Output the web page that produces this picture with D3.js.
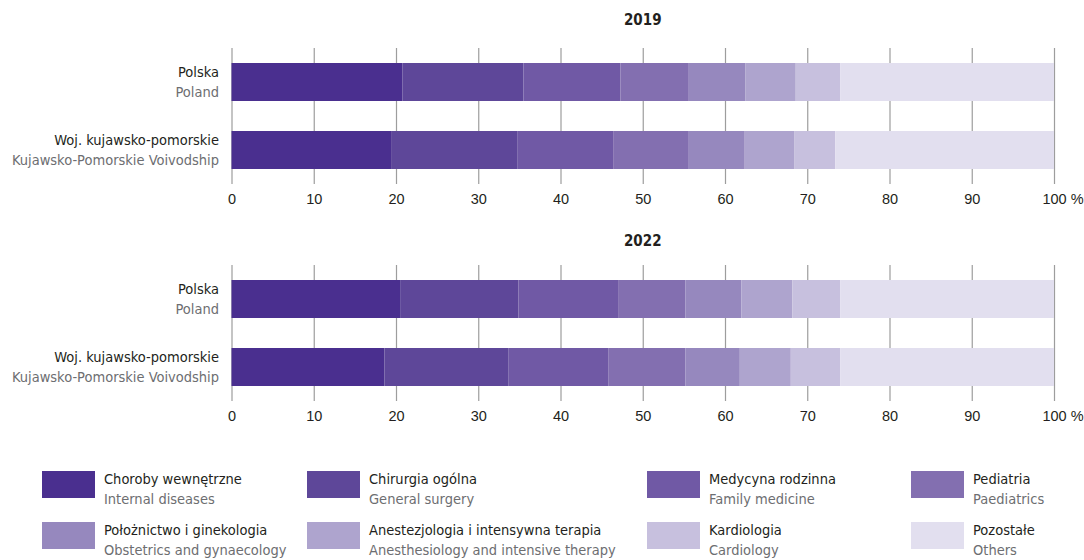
<!DOCTYPE html>
<html>
<head>
<meta charset="utf-8">
<script src="https://cdn.jsdelivr.net/npm/d3@7"></script>
<style>
  body { margin: 0; background: #fff; }
  svg { font-family: "DejaVu Sans Condensed", "DejaVu Sans", sans-serif; font-stretch: condensed; }
  .tick line { stroke: #9d9d9d; }
  .tick text { font-size: 14.5px; fill: #231f20; }
</style>
</head>
<body>
<div id="chart"></div>
<script>
// specialisations (legend order = stack order)
var categoriesPl = ["Choroby wewnętrzne", "Chirurgia ogólna", "Medycyna rodzinna", "Pediatria",
  "Położnictwo i ginekologia", "Anestezjologia i intensywna terapia", "Kardiologia", "Pozostałe"];
var categoriesEn = ["Internal diseases", "General surgery", "Family medicine", "Paediatrics",
  "Obstetrics and gynaecology", "Anesthesiology and intensive therapy", "Cardiology", "Others"];

var regionsPl = ["Polska", "Woj. kujawsko-pomorskie"];
var regionsEn = ["Poland", "Kujawsko-Pomorskie Voivodship"];

var years = ["2019", "2022"];

// shares in %
var polska2019 = [20.8, 14.7, 11.8, 8.3, 6.9, 6.1, 5.4, 26.0];
var kujawsko2019 = [19.4, 15.4, 11.6, 9.2, 6.8, 6.0, 5.0, 26.6];
var polska2022 = [20.5, 14.4, 12.1, 8.2, 6.8, 6.2, 5.8, 26.0];
var kujawsko2022 = [18.6, 15.1, 12.1, 9.4, 6.6, 6.2, 6.0, 26.0];

var ticks = [0, 10, 20, 30, 40, 50, 60, 70, 80, 90, 100];

var colors = ["#4a2f8f", "#5e4799", "#7059a5", "#836fb0", "#9688be", "#aea4ce", "#c7c0de", "#e2dfef"];

var w = 1084, h = 560;
var panelTops = [48, 265];
var titleOffsets = [-28, -24];
var panelH = 136;
var fs = "14.5px";

var svg = d3.select("#chart")
  .append("svg")
  .attr("width", w)
  .attr("height", h);

var x = d3.scaleLinear()
  .domain([0, 100])
  .range([231.5, 1054]);

var y = d3.scaleBand()
  .domain(regionsPl)
  .range([0, panelH])
  .paddingInner(30 / 68)
  .paddingOuter(15 / 68);

var color = d3.scaleOrdinal()
  .domain(categoriesPl)
  .range(colors);

var panelData = [
  [polska2019, kujawsko2019],
  [polska2022, kujawsko2022]
];

years.forEach(function (year, i) {
  var g = svg.append("g")
    .attr("transform", `translate(0, ${panelTops[i]})`);

  // title
  g.append("text")
    .attr("x", (x(0) + x(100)) / 2)
    .attr("y", titleOffsets[i])
    .attr("dy", "0.35em")
    .attr("text-anchor", "middle")
    .attr("font-size", "15px")
    .attr("font-weight", "bold")
    .attr("fill", "#231f20")
    .text(year);

  // gridlines + tick labels
  var axis = g.append("g")
    .attr("transform", `translate(0, ${panelH})`)
    .call(d3.axisBottom(x)
      .tickValues(ticks)
      .tickSize(-panelH)
      .tickPadding(10)
      .tickFormat(d3.format("d")));
  axis.select(".domain").remove();
  axis.selectAll(".tick line").attr("stroke-width", 1.2);

  // "100 %" - keep the number centred on the tick
  var last = axis.selectAll(".tick text").filter((d) => d === 100);
  var numW = last.node().getComputedTextLength();
  last.attr("text-anchor", "start")
    .attr("x", -numW / 2)
    .text("100 %");

  // stacked bars
  panelData[i].forEach(function (vals, r) {
    var stacked = [];
    var acc = 0;
    vals.forEach(function (v, k) {
      stacked.push({ key: categoriesPl[k], x0: acc, x1: acc + v });
      acc += v;
    });

    g.selectAll(".bar" + r)
      .data(stacked)
      .enter()
      .append("rect")
      .attr("class", "bar" + r)
      .attr("x", (d) => x(d.x0))
      .attr("y", y(regionsPl[r]))
      .attr("width", (d) => x(Math.min(d.x1, 100)) - x(d.x0))
      .attr("height", y.bandwidth())
      .attr("fill", (d) => color(d.key));

    var cy = y(regionsPl[r]) + y.bandwidth() / 2;
    g.append("text")
      .attr("x", 219)
      .attr("y", cy - 10)
      .attr("dy", "0.35em")
      .attr("text-anchor", "end")
      .attr("font-size", fs)
      .attr("fill", "#231f20")
      .text(regionsPl[r]);
    g.append("text")
      .attr("x", 219)
      .attr("y", cy + 10)
      .attr("dy", "0.35em")
      .attr("text-anchor", "end")
      .attr("font-size", fs)
      .attr("fill", "#6d6e71")
      .text(regionsEn[r]);
  });
});

// legend
var legendCols = [42, 307, 647, 911];
var legendRows = [471, 522];

var legend = svg.selectAll(".legend")
  .data(categoriesPl)
  .enter()
  .append("g")
  .attr("class", "legend")
  .attr("transform", (d, i) => `translate(${legendCols[i % 4]}, ${legendRows[Math.floor(i / 4)]})`);

legend.append("rect")
  .attr("width", 53)
  .attr("height", 27)
  .attr("fill", (d) => color(d));

legend.append("text")
  .attr("x", 62)
  .attr("y", 8)
  .attr("dy", "0.35em")
  .attr("font-size", fs)
  .attr("fill", "#231f20")
  .text((d) => d);

legend.append("text")
  .attr("x", 62)
  .attr("y", 28)
  .attr("dy", "0.35em")
  .attr("font-size", fs)
  .attr("fill", "#6d6e71")
  .text((d, i) => categoriesEn[i]);
</script>
</body>
</html>
